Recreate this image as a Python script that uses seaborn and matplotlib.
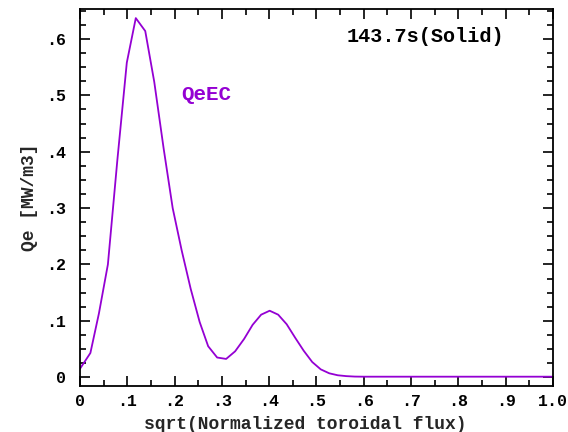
import matplotlib
matplotlib.use("Agg")
import matplotlib.pyplot as plt
import matplotlib.ticker as mticker
import seaborn as sns
import pandas as pd

# Electron heating profile QeEC versus sqrt of normalized toroidal flux
rho = [0.0, 0.022, 0.040, 0.059, 0.079, 0.099, 0.118, 0.138, 0.157, 0.177,
       0.196, 0.215, 0.234, 0.253, 0.271, 0.290, 0.309, 0.328, 0.347, 0.365,
       0.383, 0.401, 0.419, 0.437, 0.455, 0.473, 0.491, 0.509, 0.527, 0.545,
       0.563, 0.581, 0.600, 0.700, 0.800, 0.900, 1.000]
qe_ec = [0.015, 0.043, 0.113, 0.200, 0.385, 0.558, 0.637, 0.614, 0.524, 0.405,
         0.300, 0.225, 0.157, 0.098, 0.055, 0.035, 0.0325, 0.046, 0.068, 0.093,
         0.111, 0.118, 0.111, 0.094, 0.070, 0.047, 0.027, 0.014, 0.007, 0.0035,
         0.002, 0.0012, 0.001, 0.001, 0.001, 0.001, 0.001]

x_ticks = [0.0, 0.1, 0.2, 0.3, 0.4, 0.5, 0.6, 0.7, 0.8, 0.9, 1.0]
x_tick_labels = ["0", ".1", ".2", ".3", ".4", ".5", ".6", ".7", ".8", ".9", "1.0"]
y_ticks = [0.0, 0.1, 0.2, 0.3, 0.4, 0.5, 0.6]
y_tick_labels = ["0", ".1", ".2", ".3", ".4", ".5", ".6"]

series_name = "QeEC"
time_label = "143.7s(Solid)"
line_color = "#9400D3"

df = pd.DataFrame({"rho": rho, "qe": qe_ec})

sns.set_theme(style="ticks")
plt.rcParams["font.family"] = ["Liberation Mono", "DejaVu Sans Mono"]
plt.rcParams["font.weight"] = "bold"

fig = plt.figure(figsize=(5.68, 4.32), dpi=100)
ax = fig.add_axes([0.1408, 0.1065, 0.8328, 0.8725])

sns.lineplot(data=df, x="rho", y="qe", ax=ax, color=line_color, linewidth=1.3)

ax.set_xlim(0.0, 1.0)
ax.set_ylim(-0.0155, 0.653)

ax.set_xticks(x_ticks)
ax.set_xticklabels(x_tick_labels)
ax.xaxis.set_minor_locator(mticker.MultipleLocator(0.05))
ax.set_yticks(y_ticks)
ax.set_yticklabels(y_tick_labels)
ax.yaxis.set_minor_locator(mticker.MultipleLocator(0.025))

ax.tick_params(which="both", direction="in", top=True, right=True,
               width=1.2, colors="black", labelsize=12)
ax.tick_params(which="major", length=7)
ax.tick_params(which="minor", length=4)
ax.tick_params(axis="y", which="major", pad=10)
ax.tick_params(axis="x", which="major", pad=6)

for s in ax.spines.values():
    s.set_linewidth(1.3)
    s.set_color("black")

ax.set_xlabel("sqrt(Normalized toroidal flux)", fontsize=13, fontweight="bold")
ax.set_ylabel("Qe [MW/m3]", fontsize=13, fontweight="bold")
ax.xaxis.set_label_coords(0.476, -0.079)
ax.yaxis.set_label_coords(-0.089, 0.5)

ax.text(0.731, 0.604, time_label, fontsize=14.5, fontweight="bold",
        ha="center", va="center", color="black")
ax.text(0.266, 0.502, series_name, fontsize=15, fontweight="bold",
        ha="center", va="center", color=line_color)

ax.grid(False)
fig.savefig("out.png", dpi=100)
